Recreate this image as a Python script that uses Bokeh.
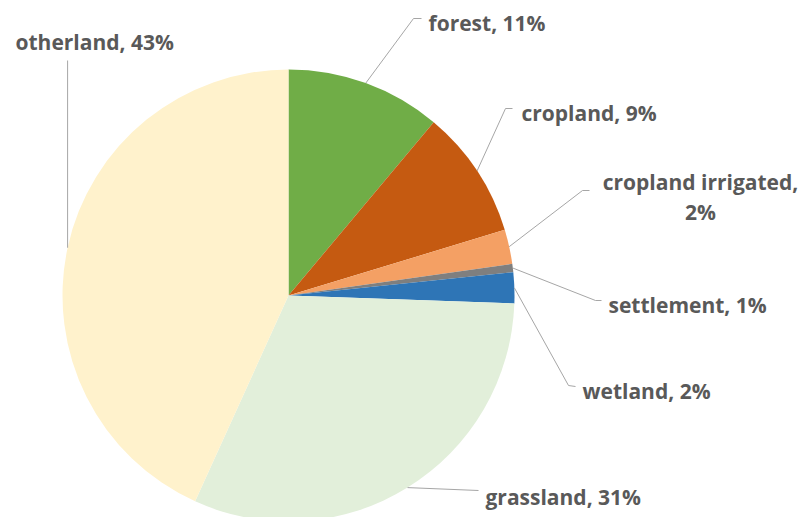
import numpy as np
from bokeh.plotting import figure
from bokeh.models import Range1d, ColumnDataSource
from bokeh.core.properties import value
from bokeh.embed import file_html
from bokeh.resources import INLINE

# ---- data ----
categories = ["forest", "cropland", "cropland irrigated", "settlement",
              "wetland", "grassland", "otherland"]
shares = [11.1, 9.2, 2.45, 0.6, 2.2, 31.2, 43.2]
colors = ["#70AD47", "#C55A11", "#F4A064", "#7F7F7F", "#2E75B6",
          "#E2EFDA", "#FFF2CC"]

# ---- layout ----
W, H = 805, 517
CX, CY, R = 288, 517 - 295, 226     # pie centre / radius (pixels)
TOP = 517                           # image y -> data y conversion
OFF = 0
FONT = "Open Sans"
FSIZE = "21px"
TXT = "#595959"
LEAD = "#A6A6A6"

vals = np.array(shares, dtype=float)
frac = vals / vals.sum()
cum_end = np.cumsum(frac)
cum_start = cum_end - frac
start_angle = np.pi / 2 - 2 * np.pi * cum_end
end_angle = np.pi / 2 - 2 * np.pi * cum_start
mid = (start_angle + end_angle) / 2

p = figure(width=W, height=H, x_range=Range1d(0, W), y_range=Range1d(0, H),
           x_axis_type=None, y_axis_type=None, toolbar_location=None,
           output_backend="svg", min_border=0)
p.grid.visible = False
p.outline_line_color = None
p.background_fill_color = "white"

src = ColumnDataSource(dict(start=start_angle, end=end_angle, color=colors,
                            x=[CX] * len(vals), y=[CY] * len(vals)))
p.wedge(x="x", y="y", radius=R, start_angle="start", end_angle="end",
        direction="anticlock", fill_color="color", line_color=None, source=src)

# label layout in image pixel coordinates: elbow point, line end, text anchor
elbow = [(413, 18), (505, 108), (582, 190), (595, 300), (568, 385), (478, 490), (None, 60)]
lend = [(421, 18), (512, 108), (589, 190), (601, 300), (575, 386), (None, None), (None, None)]
tpos = [(428, 22), (521, 112), (700, 181), (608, 304), (582, 390), (485, 496), (15, 41)]
talign = ["left", "left", "center", "left", "left", "left", "left"]

xs, ys = [], []
for i in range(len(vals)):
    ex = CX + R * np.cos(mid[i])
    ey = CY + R * np.sin(mid[i])
    bx, by = elbow[i]
    bx = ex if bx is None else bx - OFF
    lx, ly = [ex, bx], [ey, TOP - by]
    if lend[i][0] is not None:
        lx.append(lend[i][0] - OFF)
        ly.append(TOP - lend[i][1])
    xs.append(lx)
    ys.append(ly)
p.multi_line(xs=xs, ys=ys, line_color=LEAD, line_width=1)

tx, ty, tt, ta = [], [], [], []
for i, c in enumerate(categories):
    pct = f"{vals[i] / vals.sum() * 100:.0f}%"
    x0, y0 = tpos[i]
    if c == "cropland irrigated":
        tx += [x0 - OFF, x0 - OFF]
        ty += [TOP - y0, TOP - (y0 + 30)]
        tt += [f"{c},", pct]
        ta += ["center", "center"]
    else:
        tx.append(x0 - OFF)
        ty.append(TOP - y0)
        tt.append(f"{c}, {pct}")
        ta.append(talign[i])

lsrc = ColumnDataSource(dict(x=tx, y=ty, text=tt, align=ta))
p.text(x="x", y="y", text="text", text_align="align", text_baseline="middle",
       text_font=value(FONT), text_font_size=FSIZE, text_font_style="bold",
       text_color=TXT, source=lsrc)

open("out.html", "w").write(file_html(p, INLINE))
